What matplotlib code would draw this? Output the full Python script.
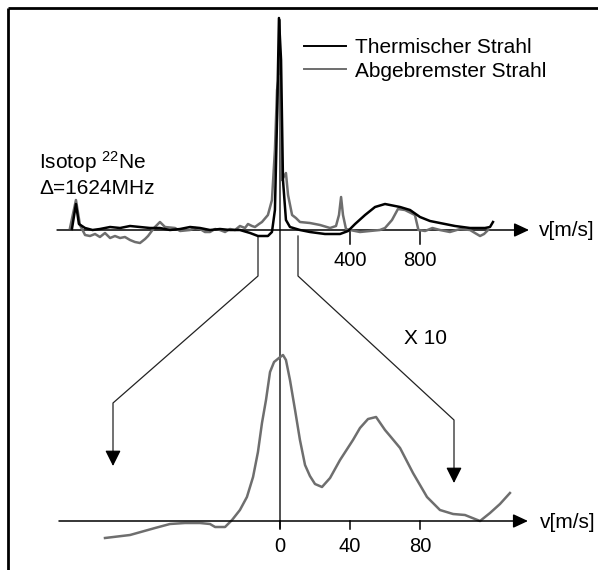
import numpy as np
import matplotlib
matplotlib.use('Agg')
import matplotlib.pyplot as plt

plt.rcParams['font.family'] = ['Liberation Sans', 'DejaVu Sans']
plt.rcParams['mathtext.fontset'] = 'custom'
plt.rcParams['mathtext.rm'] = 'Liberation Sans'
plt.rcParams['mathtext.it'] = 'Liberation Sans'

# --- data: upper spectrum, v in m/s, intensity in a.u. ---
v_therm = [-1189, -1166, -1149, -1114, -1071, -1029, -971, -914, -857, -800,
           -743, -686, -629, -571, -514, -457, -400, -343, -286, -229, -171,
           -126, -69, -46, -29, -17, -6, 6, 17, 34, 57, 114, 171,
           257, 343, 389, 429, 486, 543, 600, 686, 743, 800, 857, 914, 1000,
           1086, 1171, 1200, 1217]
i_therm = [0.5, 13, 3, 1, 0, 0.5, 1.5, 1, 2, 1.5,
           1, 1, 0, 0.5, 1.5, 1, 0, 0.5, 0, 0, -1.5,
           -3, -3, -1, 10, 55, 106, 85, 25, 5, 1.5, 0, -1,
           -2, -2, -0.5, 3, 7.5, 11.5, 13, 11.5, 10, 6.5, 4.5, 3.5, 2,
           1, 1, 1.5, 4]

v_slow = [-1200, -1166, -1143, -1114, -1086, -1057, -1029, -1000, -971, -943,
          -914, -886, -857, -829, -800, -771, -754, -720, -686, -657, -600,
          -571, -514, -486, -457, -429, -400, -371, -343, -314, -286, -257,
          -229, -200, -183, -160, -143, -120, -103, -69, -46, -29, -17, -6,
          11, 34, 46, 69, 91, 114, 171, 229,
          286, 320, 337, 349, 360, 377, 400, 457, 514, 571, 600, 640, 674,
          714, 771, 791, 829, 871, 914, 971, 1029, 1086, 1114, 1143, 1166, 1189]
i_slow = [1, 15, 2.5, -2.5, -3, -2, -3.5, -1.5, -4, -3,
          -4, -3.5, -5, -6, -6.5, -4.5, -3, 1, 4, 1.5, 1,
          -0.5, 0, 1, 0.5, -1, -1, 0.5, 0, -1, 0.5, 0,
          2, 1, 3, 2, 1.5, 3, 4, 7.5, 15, 40, 70, 77,
          25, 28.5, 17.5, 7.5, 6, 4, 3.5, 2.5,
          1, 2, 7.5, 16.5, 7.5, 0.5, 0, -1, -0.5, 0, 1, 5, 10.5,
          10, 7.5, 0, -0.5, 1, 0, -1, 0.5, 0, -1.5, -3, -2, 0]

# --- data: lower spectrum (x10), v in m/s, intensity in a.u. ---
v_zoom = [-100, -85.7, -71.4, -62.9, -54.3, -45.7, -40, -37.1, -31.4, -27.4,
          -22.9, -18.9, -15.4, -12.6, -10.3, -8, -5.7, -3.4, -0.6, 1.7, 3.4,
          5.7, 8.6, 11.4, 14.3, 17.1, 20, 24, 28.6, 34.3, 41.7, 45.7, 50.3,
          54.9, 60, 62.9, 68.6, 76, 84, 91.4, 98.9, 105.7, 111.4, 114.3, 120,
          125.7, 131.4]
i_zoom = [-8.5, -7, -3.5, -1.5, -1, -1, -1.5, -3, -3, 0.5,
          5.5, 12, 22, 34.5, 49, 60.5, 74.5, 79.5, 81.5, 83, 80.5,
          70.5, 55.5, 40.5, 28, 22.5, 18.5, 17, 21.5, 30.5, 40.5, 46.5, 51,
          52, 45.5, 42.5, 36.5, 24, 12, 5.5, 3.5, 3, 1, 0, 4,
          8.5, 14]

top_ticks = [400, 800]
bot_ticks = [0, 40, 80]

W, H = 598, 570
fig = plt.figure(figsize=(W / 100, H / 100), dpi=100)

# overlay in pixel coordinates for frame, connectors and text
ax = fig.add_axes([0, 0, 1, 1])
ax.set_xlim(0, W)
ax.set_ylim(H, 0)
ax.axis('off')

# upper spectrum: 0 m/s at px 280, 400 m/s per 70 px, baseline at px 230
ax_top = fig.add_axes([0, 0, 1, 1], facecolor='none')
ax_top.set_xlim(-280 * 400 / 70, (W - 280) * 400 / 70)
ax_top.set_ylim((230 - H) / 2, 230 / 2)
ax_top.axis('off')

# lower spectrum: 40 m/s per 70 px, baseline at px 521
ax_bot = fig.add_axes([0, 0, 1, 1], facecolor='none')
ax_bot.set_xlim(-280 * 40 / 70, (W - 280) * 40 / 70)
ax_bot.set_ylim((521 - H) / 2, 521 / 2)
ax_bot.axis('off')

gray = '#6e6e6e'
fs = 15

# frame (top and left only)
ax.plot([8, W], [8, 8], color='black', lw=2, solid_capstyle='butt')
ax.plot([8, 8], [8, H], color='black', lw=2, solid_capstyle='butt')

# axes with arrows
arr = dict(arrowstyle='-|>,head_length=0.75,head_width=0.35', color='black',
           lw=1.1, mutation_scale=12, shrinkA=0, shrinkB=0)
ax_top.annotate('', xy=(1423, 0), xytext=(-1274, 0), arrowprops=arr)
ax_bot.annotate('', xy=(141.7, 0), xytext=(-126.3, 0), arrowprops=arr)
ax.plot([280, 280], [20, 528], color='#222222', lw=1.1)
for t in top_ticks:
    ax_top.plot([t, t], [0, -7], color='black', lw=1.1)
    ax_top.text(t, -15, str(t), ha='center', va='center', fontsize=14.5)
for t in bot_ticks:
    ax_bot.plot([t, t], [0, -4], color='black', lw=1.1)
    ax_bot.text(t, -13, str(t), ha='center', va='center', fontsize=14.5)
ax.text(539, 231, 'v[m/s]', ha='left', va='center', fontsize=fs)
ax.text(540, 522, 'v[m/s]', ha='left', va='center', fontsize=fs)

# spectra
ax_top.plot(v_slow, i_slow, color=gray, lw=1.8, label='Abgebremster Strahl', zorder=3)
ax_top.plot(v_therm, i_therm, color='black', lw=1.8, label='Thermischer Strahl', zorder=4)
ax_bot.plot(v_zoom, i_zoom, color=gray, lw=1.8)

# legend
h, l = ax_top.get_legend_handles_labels()
leg = ax_top.legend(h[::-1], l[::-1], loc='upper left', frameon=False,
                    bbox_to_anchor=(304 / W, 1 - 38 / H), bbox_transform=fig.transFigure,
                    fontsize=fs, handlelength=2.0, handletextpad=0.45,
                    labelspacing=0.22, borderpad=0, borderaxespad=0)
for line in leg.get_lines():
    line.set_linewidth(1.4)

# connectors with arrows into the magnified view
con = dict(color='#222222', lw=0.9)
ax.plot([258, 258, 113, 113], [237, 276, 403, 458], **con)
ax.plot([298, 298, 454, 454], [236, 276, 420, 475], **con)
head = dict(arrowstyle='-|>,head_length=0.8,head_width=0.4', color='black',
            lw=0.9, mutation_scale=12, shrinkA=0, shrinkB=0)
ax.annotate('', xy=(113, 466), xytext=(113, 452), arrowprops=head)
ax.annotate('', xy=(454, 483), xytext=(454, 469), arrowprops=head)

# labels
ax.text(39, 162, r'Isotop $^{22}$Ne', ha='left', va='center', fontsize=fs)
ax.text(39, 189, '\u0394=1624MHz', ha='left', va='center', fontsize=fs)
ax.text(404, 338, 'X 10', ha='left', va='center', fontsize=fs)

fig.savefig('out.png', dpi=100)
